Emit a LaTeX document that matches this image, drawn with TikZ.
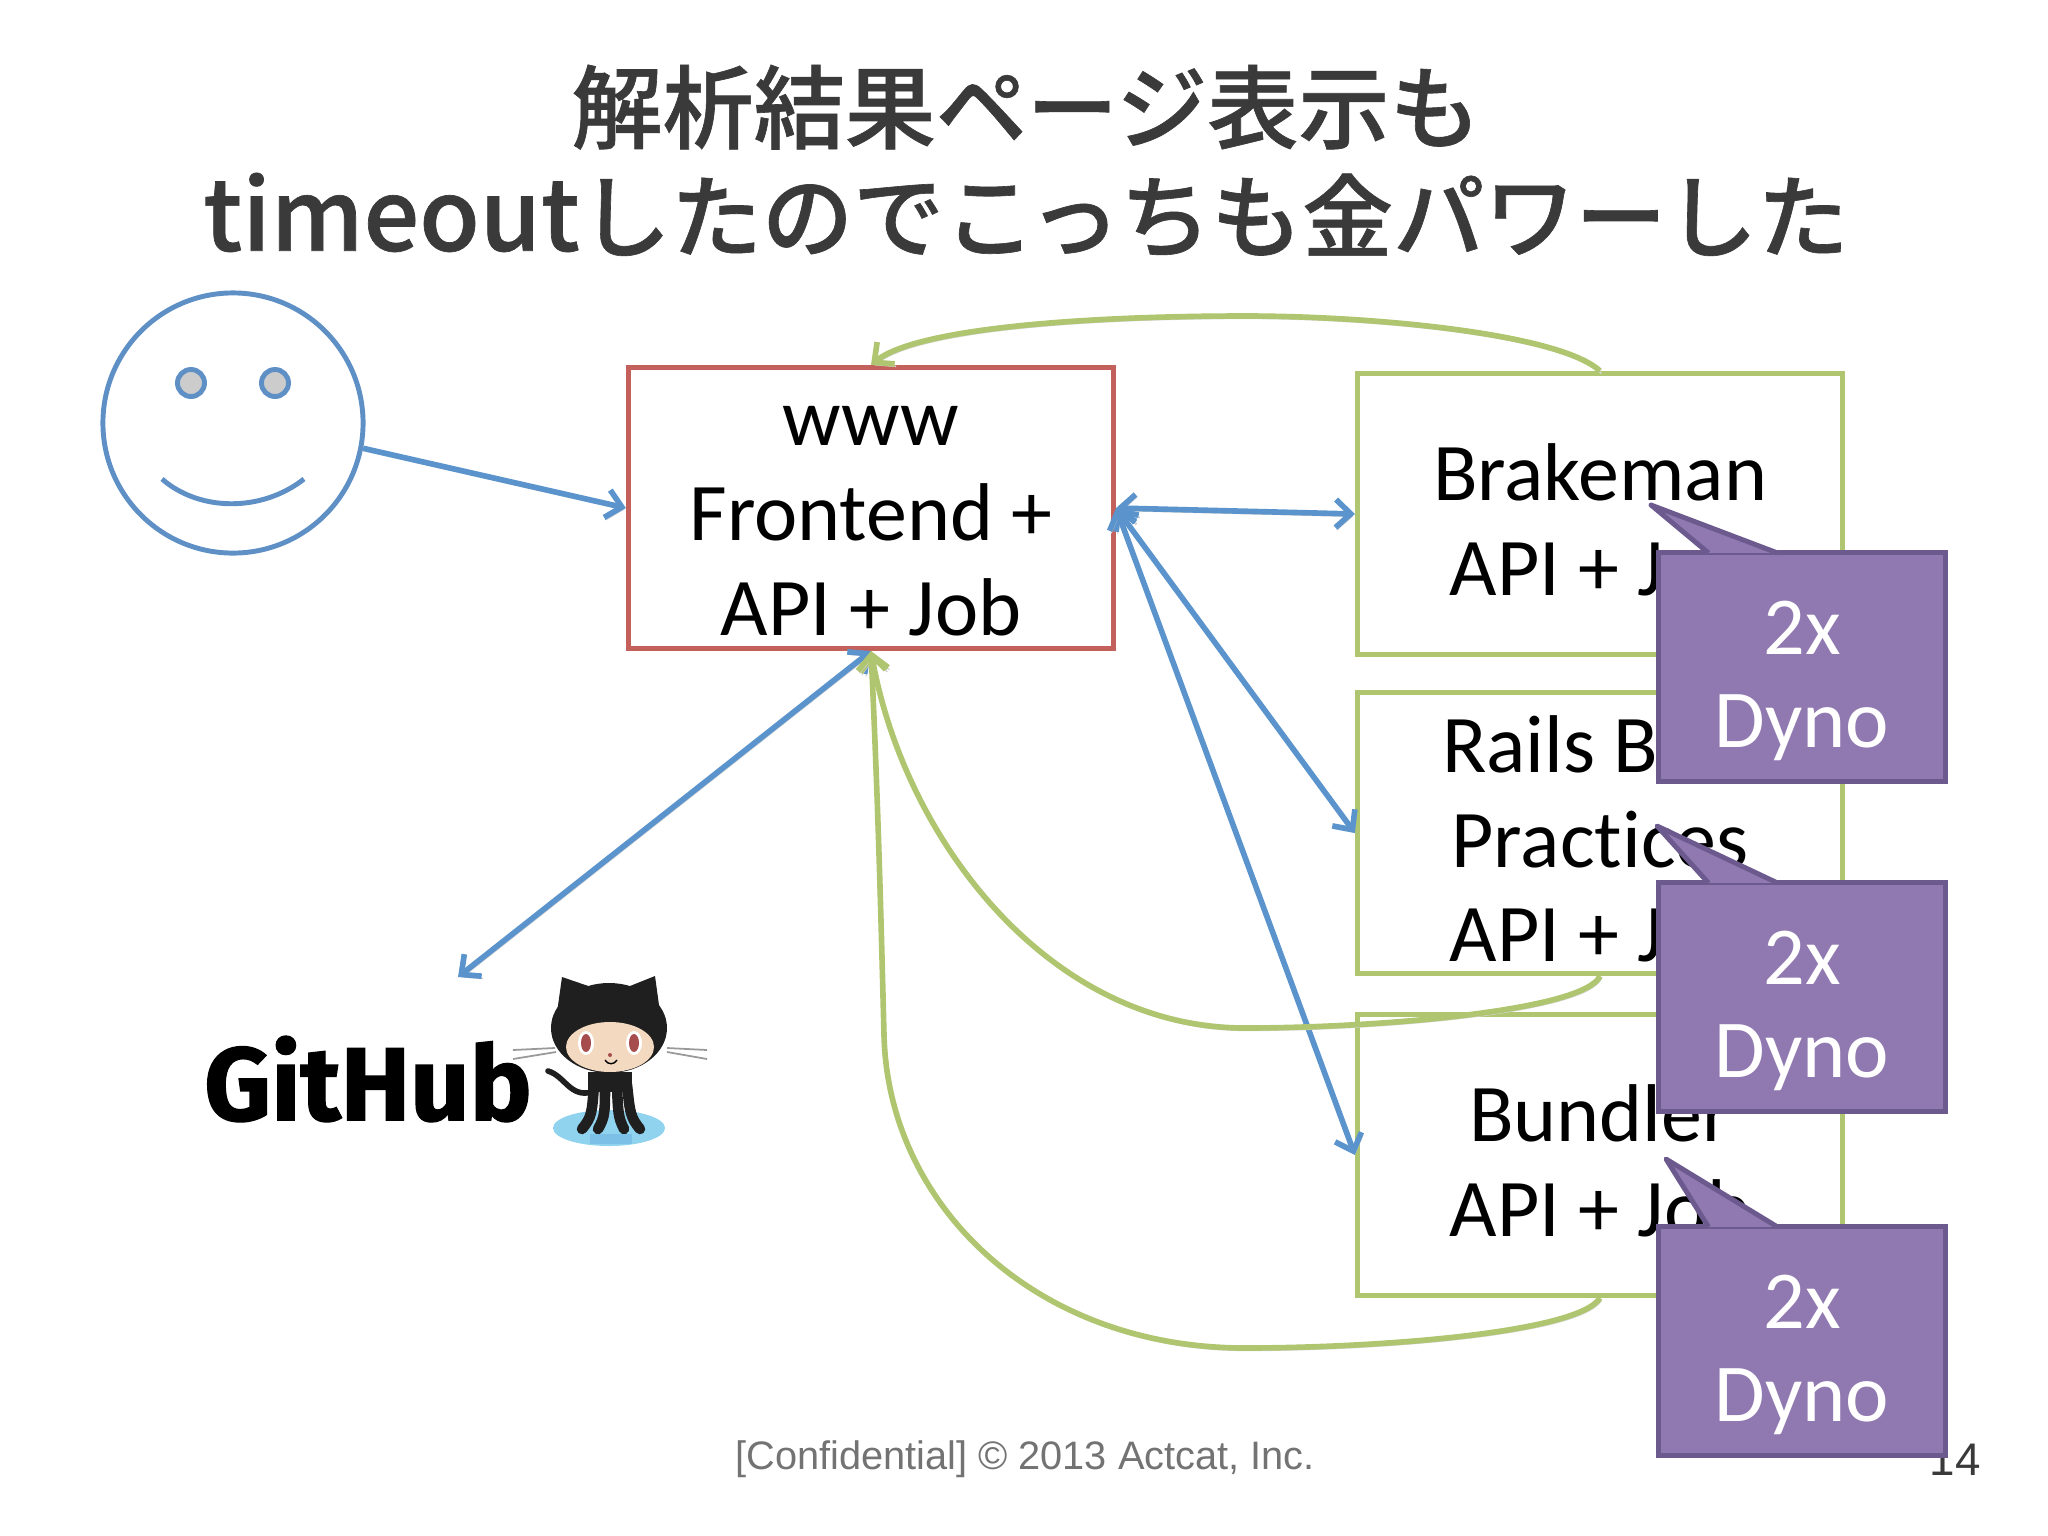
\documentclass[tikz,border=0pt]{standalone}
\usepackage{fontspec}
\usepackage{tikz}
\usetikzlibrary{positioning,arrows.meta}
\setmainfont{Carlito}[Ligatures=NoCommon]
\newfontfamily\cjk{Noto Sans CJK JP}[BoldFont={Noto Sans CJK JP Medium},BoldFeatures={FakeBold=0.7}]
\newfontfamily\footfont{Liberation Sans}
\newfontfamily\logofont{Fira Sans}[BoldFeatures={FakeBold=1.2}]
\definecolor{faceblue}{HTML}{5E90C6}
\definecolor{arrowblue}{HTML}{5B94CC}
\definecolor{boxred}{HTML}{C4605C}
\definecolor{boxgreen}{HTML}{AFC56F}
\definecolor{dynofill}{HTML}{9079B0}
\definecolor{dynoline}{HTML}{6C5A8E}
\definecolor{titlegray}{HTML}{3A3A3A}
\definecolor{pond}{HTML}{8FD3EF}
\definecolor{ponddark}{HTML}{7CC0E8}
\newcommand{\dynotext}{\rule{0pt}{23pt}2x\\Dyno}
\newcommand{\firstline}{\rule{0pt}{19.5pt}}
\tikzset{
  >={Straight Barb[length=1.5mm,width=2.8mm]},
  appbox/.style={draw=boxgreen,fill=white,line width=1.4pt,minimum width=4.85cm,minimum height=2.81cm,align=center,font=\fontsize{23.3}{27}\selectfont,inner sep=0pt},
  dyno/.style={rectangle,draw=dynoline,fill=dynofill,line width=1.4pt,text=white,minimum width=2.86cm,minimum height=2.29cm,align=center,inner sep=0pt,font=\fontsize{23.4}{26.5}\selectfont},
  dynotip/.style={draw=dynoline,fill=dynofill,line width=1.4pt,line join=round},
  softshadow/.style={preaction={draw=black!16,transform canvas={xshift=0.4pt,yshift=-0.7pt}}},
  bluearrow/.style={draw=arrowblue,line width=1.6pt,softshadow},
  greenarrow/.style={draw=boxgreen,line width=1.6pt,softshadow},
  cat/.style={fill=black!88},
  catline/.style={draw=black!88,line cap=round},
  whisker/.style={draw=black!40,line width=0.5pt}
}
\begin{document}
\begin{tikzpicture}[x=0.01cm,y=-0.01cm]
    \useasboundingbox (0,0) rectangle (2048,1536);

    % Nodes
    \node[font=\cjk\bfseries\fontsize{25.9}{31}\selectfont,text=titlegray,align=center] (title) at (1026,161) {解析結果ページ表示も\\{\fontsize{28}{31}\selectfont timeout}したのでこっちも金パワーした};

    \node[circle,draw=faceblue,line width=1.4pt,minimum size=2.6cm] (face) at (233,423) {};
    \node[circle,draw=faceblue,fill=black!20,line width=1.4pt,minimum size=0.27cm,inner sep=0pt] (lefteye) at (191,383) {};
    \node[circle,draw=faceblue,fill=black!20,line width=1.4pt,minimum size=0.27cm,inner sep=0pt] (righteye) at (275,383) {};
    \draw[draw=faceblue,line width=1.4pt] (162,479) .. controls (200,512) and (262,512) .. (304,479);

    \node[appbox,draw=boxred] (www) at (871,508) {\rule{0pt}{18.5pt}www\\Frontend +\\API + Job};
    \node[appbox] (brakeman) at (1600,514) {\firstline Brakeman\\API + Job};
    \node[appbox] (rails) at (1600,833) {\firstline Rails Best\\Practices\\API + Job};
    \node[appbox] (bundler) at (1600,1155) {\firstline Bundler\\API + Job};

    \coordinate (ghend) at (458,977);

    % GitHub logo
    \node[font=\logofont\bfseries\fontsize{29.6}{30}\selectfont,inner sep=0pt] (github) at (368,1079) {GitHub};
    \fill[pond] (609,1128) ellipse (56 and 18);
    \fill[ponddark] (590,1134) rectangle (632,1144);
    \fill[cat] (562,977) -- (600,990) -- (620,990) -- (655,976) -- (662,1027) -- (555,1027) -- cycle;
    \fill[cat] (609,1028) ellipse (58 and 45);
    \fill[orange!30!brown!30] (610,1047) ellipse (44 and 25);
    \fill[white] (586,1043) ellipse (8 and 12) (634,1043) ellipse (8 and 12);
    \fill[red!50!black!70] (586,1043) ellipse (5 and 9) (634,1043) ellipse (5 and 9);
    \fill[red!50!black!70] (610,1055) circle (2);
    \draw[line width=0.4pt] (605,1060) .. controls (608,1065) and (614,1065) .. (617,1060);
    \draw[whisker] (513,1050) -- (555,1048) (513,1059) -- (556,1052) (667,1048) -- (707,1050) (667,1052) -- (707,1059);
    \fill[cat] (588,1072) rectangle (632,1092);
    \draw[catline,line width=1.6pt] (592,1092) .. controls (570,1098) and (565,1076) .. (548,1071);
    \foreach \a/\b/\c in {594/592/582,605/605/598,617/618/624,627/630/640}{
      \draw[catline,line width=3pt] (\a,1085) .. controls (\b,1112) and (\b,1117) .. (\c,1129);
    }

    % Arrows
    \draw[->,bluearrow] (face.-11) -- (www.west);
    \draw[<->,bluearrow] (www.east) -- (brakeman.west);
    \draw[<->,bluearrow] (www.east) -- (rails.west);
    \draw[<->,bluearrow] (www.east) -- (bundler.west);
    \draw[<->,bluearrow] (www.south) -- (ghend);

    \draw[->,greenarrow] (brakeman.north) .. controls (1560,334) and (1376,316) .. (1245,316) .. controls (1087,316) and (917,328) .. (www.north);
    \draw[->,greenarrow] (rails.south) .. controls (1584,1011) and (1376,1028) .. (1245,1028) .. controls (1048,1028) and (904,838) .. (www.south);
    \draw[->,greenarrow] (bundler.south) .. controls (1578,1333) and (1376,1348) .. (1245,1348) .. controls (1035,1348) and (888,1205) .. (884,1035) .. controls (881,917) and (878,800) .. (www.south);

    % Footer
    \node[font=\footfont\fontsize{11.3}{12}\selectfont,text=black!55] (footer) at (1025,1459) {[Confidential] © 2013 Actcat, Inc.};
    \node[font=\footfont\fontsize{13}{14}\selectfont,text=titlegray] (page) at (1955,1460) {14};

    % Callouts
    \foreach \name/\cy/\tx/\ty in {dynoa/667/1651/505,dynob/997/1657/826,dynoc/1341/1666/1159}{
      \node[dyno] (\name) at (1802,\cy) {\dynotext};
      \draw[dynotip] ([xshift=0.52cm,yshift=-0.03cm]\name.north west) -- (\tx,\ty) -- ([xshift=1.21cm,yshift=-0.03cm]\name.north west);
    }
\end{tikzpicture}
\end{document}
